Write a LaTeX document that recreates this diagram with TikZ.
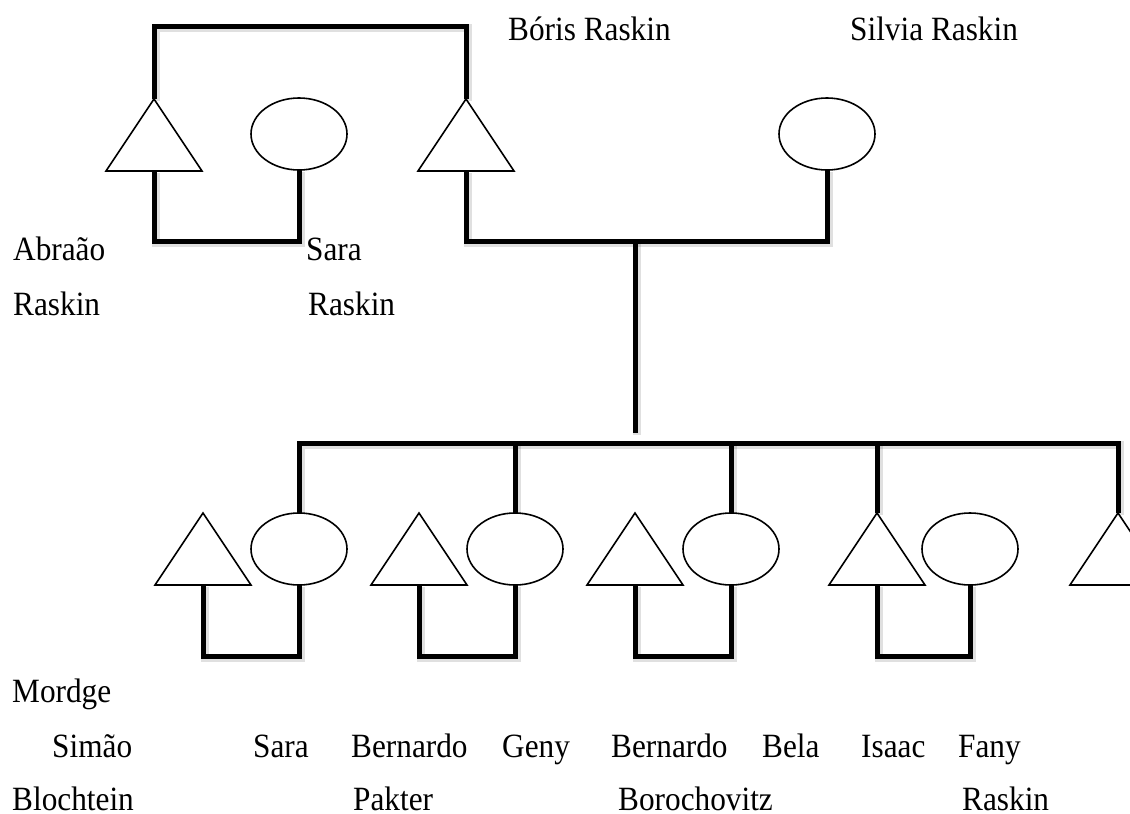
\documentclass[tikz,border=0pt]{standalone}
\usepackage{fontspec}
\setmainfont{Liberation Serif}[FakeStretch=0.92]
\usetikzlibrary{shapes.geometric}
\begin{document}
\begin{tikzpicture}[x=1pt,y=-1pt,
  male/.style={isosceles triangle, isosceles triangle stretches,
    shape border rotate=90, minimum width=96pt, minimum height=72pt,
    inner sep=0pt, outer sep=0pt, anchor=apex},
  female/.style={ellipse, minimum width=96pt, minimum height=72pt,
    inner sep=0pt, outer sep=0pt},
  outline/.style={line width=1.6pt, fill=white},
  tie/.style={line width=5pt, line join=miter,
    preaction={draw=black, opacity=0.12, line width=8pt,
      transform canvas={shift={(1.5pt,-2pt)}}}},
  lbl/.style={anchor=base west, inner sep=0pt, text depth=0pt,
    font=\fontsize{34pt}{40pt}\selectfont}]
\useasboundingbox (0,0) rectangle (1130,814);

% grandparents and parents
\node[male]   (abraao) at (154,99) {};
\node[female] (sara)   at (299,134) {};
\node[male]   (boris)  at (466,99) {};
\node[female] (silvia) at (827,134) {};

% children and their spouses
\node[male]   (simao)     at (203,513) {};
\node[female] (sarab)     at (299,549) {};
\node[male]   (bernardoP) at (419,513) {};
\node[female] (geny)      at (515,549) {};
\node[male]   (bernardoB) at (635,513) {};
\node[female] (bela)      at (731,549) {};
\node[male]   (isaac)     at (877,513) {};
\node[female] (fany)      at (970,549) {};
\node[male]   (last)      at (1118,513) {};

\coordinate (descTop) at (635,240);
\coordinate (descEnd) at (635,433);
\coordinate (sibBar)  at (635,443);

% lines of descent and marriage
\draw[tie] (abraao.apex) -- ++(0,-73) -| (boris.apex);
\draw[tie] (abraao.lower side) -- ++(0,70) -| (sara.south);
\draw[tie] (boris.lower side) -- ++(0,70) -| (silvia.south);
\draw[tie] (descTop) -- (descEnd);
\draw[tie] (sarab.north) |- (sibBar) -| (last.apex);
\draw[tie] (geny.north) -- (geny.north |- sibBar);
\draw[tie] (bela.north) -- (bela.north |- sibBar);
\draw[tie] (isaac.apex) -- (isaac.apex |- sibBar);
\draw[tie] (simao.lower side) -- ++(0,71) -| (sarab.south);
\draw[tie] (bernardoP.lower side) -- ++(0,71) -| (geny.south);
\draw[tie] (bernardoB.lower side) -- ++(0,71) -| (bela.south);
\draw[tie] (isaac.lower side) -- ++(0,71) -| (fany.south);

% shapes on top of the lines
\foreach \n in {abraao,boris,simao,bernardoP,bernardoB,isaac,last}
  \draw[outline] (\n.apex) -- (\n.left corner) -- (\n.right corner) -- cycle;
\foreach \n in {sara,silvia,sarab,geny,bela,fany}
  \draw[outline] (\n.center) ellipse [x radius=48pt, y radius=36pt];

% names
\node[lbl] (tBoris)  at (508,40) {Bóris Raskin};
\node[lbl] (tSilvia) at (850,40) {Silvia Raskin};
\node[lbl] (tAbr1)   at (13,260) {Abraão};
\node[lbl] (tAbr2)   at (13,315) {Raskin};
\node[lbl] (tSar1)   at (306,260) {Sara};
\node[lbl] (tSar2)   at (308,315) {Raskin};
\node[lbl] (tMordge) at (12,702) {Mordge};
\node[lbl] (tSimao)  at (52,757) {Simão};
\node[lbl] (tSarab)  at (253,757) {Sara};
\node[lbl] (tBerP)   at (351,757) {Bernardo};
\node[lbl] (tGeny)   at (502,757) {Geny};
\node[lbl] (tBerB)   at (611,757) {Bernardo};
\node[lbl] (tBela)   at (762,757) {Bela};
\node[lbl] (tIsaac)  at (861,757) {Isaac};
\node[lbl] (tFany)   at (958,757) {Fany};
\node[lbl] (tBloch)  at (12,810) {Blochtein};
\node[lbl] (tPakter) at (353,810) {Pakter};
\node[lbl] (tBoro)   at (618,810) {Borochovitz};
\node[lbl] (tRaskin) at (962,810) {Raskin};
\end{tikzpicture}
\end{document}
